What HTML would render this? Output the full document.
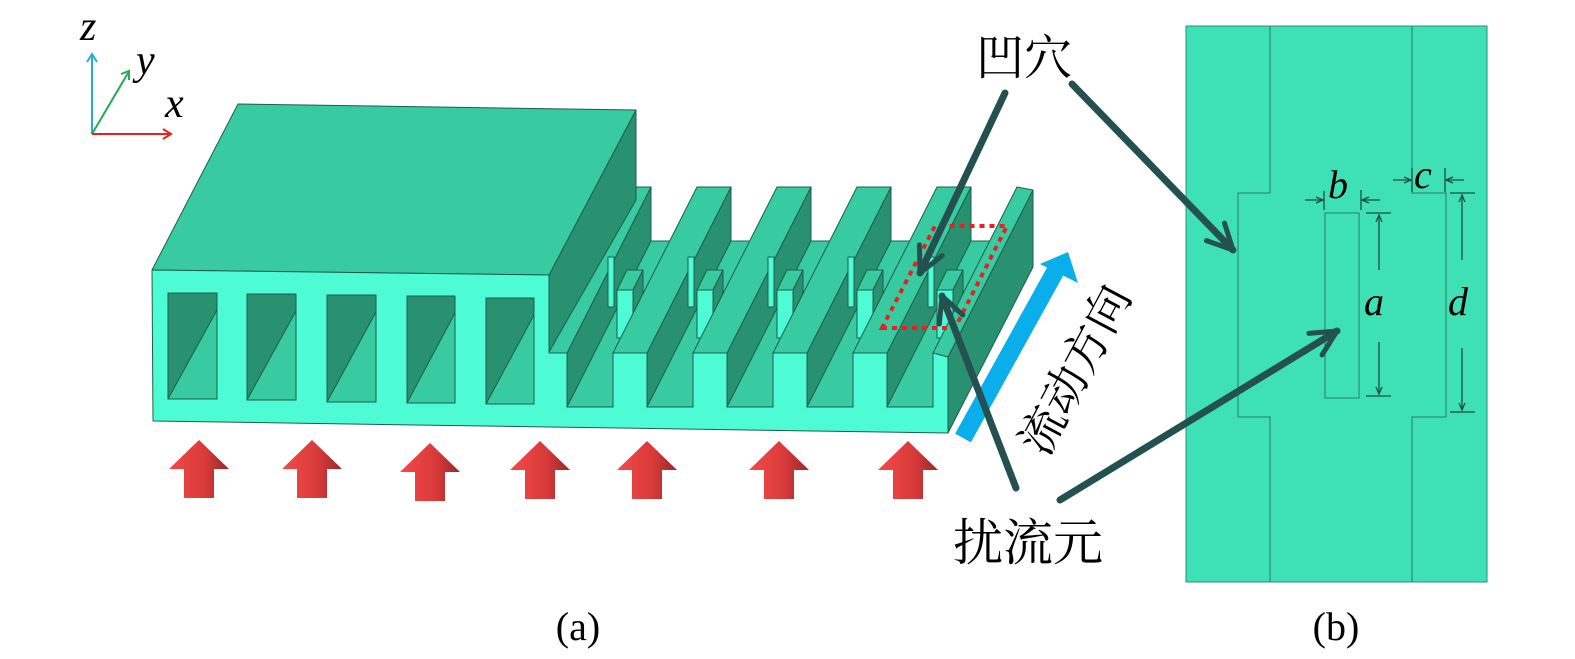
<!DOCTYPE html>
<html><head><meta charset="utf-8"><style>
html,body{margin:0;padding:0;background:#fff;}
svg{display:block;}
.cj{font-family:"Liberation Serif","Noto Serif CJK SC",serif;}
.m{font-family:"Liberation Serif",serif;font-style:italic;}
</style></head><body>
<svg width="1575" height="659" viewBox="0 0 1575 659" xmlns="http://www.w3.org/2000/svg">
<defs>
<linearGradient id="rg" x1="0" x2="1" y1="0" y2="0">
<stop offset="0" stop-color="#f44a4a"/><stop offset="0.6" stop-color="#d83a3a"/><stop offset="1" stop-color="#9a2828"/>
</linearGradient>
<marker id="ah" viewBox="0 0 10 10" refX="9" refY="5" markerWidth="4.5" markerHeight="4.5" orient="auto" markerUnits="strokeWidth">
<path d="M1,1 L9,5 L1,9" fill="none" stroke="#24514f" stroke-width="1.6" stroke-linecap="round" stroke-linejoin="round"/>
</marker>
</defs>

<!-- axes -->
<g stroke-width="2" fill="none">
<line x1="92" y1="134" x2="92" y2="56" stroke="#2aa8e0"/><path d="M87,62 L92,54 L97,62" stroke="#2aa8e0"/>
<line x1="92" y1="134" x2="128" y2="73" stroke="#22aa55"/><path d="M121,74 L129,71 L129,80" stroke="#22aa55"/>
<line x1="92" y1="134" x2="170" y2="134" stroke="#e82020"/><path d="M163,129 L171,134 L163,139" stroke="#e82020"/>
</g>
<text x="80" y="40" class="m" font-size="42">z</text>
<text x="136" y="74" class="m" font-size="42">y</text>
<text x="165" y="117" class="m" font-size="42">x</text>

<g stroke="#1e5e4b" stroke-width="1" stroke-linejoin="round">
<polygon points="549,407 948,407 1033,241 633,241" fill="#38cba1"/>
<polygon points="567,353 651,187 651,241 567,407" fill="#279170"/>
<polygon points="533,353 567,353 651,187 617,187" fill="#38cba1"/>
<polygon points="549,275 636,110 636,200 549,352" fill="#279170"/>
<polygon points="152,270 238,104 636,110 549,275" fill="#38cba1"/>
<g>
<polygon points="617,290 633,290 643,270 627,270" fill="#38cba1"/><rect x="617" y="290" width="16" height="48" fill="#4dfcd4"/><polygon points="633,290 643,270 643,318 633,338" fill="#279170"/>
<rect x="608" y="257" width="6" height="50" fill="#4dfcd4"/>
</g>
<polygon points="647,353 731,187 731,241 647,407" fill="#279170"/>
<polygon points="613,353 647,353 731,187 697,187" fill="#38cba1"/>
<g><polygon points="697,290 713,290 723,270 707,270" fill="#38cba1"/><rect x="697" y="290" width="16" height="48" fill="#4dfcd4"/><polygon points="713,290 723,270 723,318 713,338" fill="#279170"/><rect x="688" y="257" width="6" height="50" fill="#4dfcd4"/></g>
<polygon points="727,353 811,187 811,241 727,407" fill="#279170"/>
<polygon points="693,353 727,353 811,187 777,187" fill="#38cba1"/>
<g><polygon points="777,290 793,290 803,270 787,270" fill="#38cba1"/><rect x="777" y="290" width="16" height="48" fill="#4dfcd4"/><polygon points="793,290 803,270 803,318 793,338" fill="#279170"/><rect x="768" y="257" width="6" height="50" fill="#4dfcd4"/></g>
<polygon points="807,353 891,187 891,241 807,407" fill="#279170"/>
<polygon points="773,353 807,353 891,187 857,187" fill="#38cba1"/>
<g><polygon points="857,290 873,290 883,270 867,270" fill="#38cba1"/><rect x="857" y="290" width="16" height="48" fill="#4dfcd4"/><polygon points="873,290 883,270 883,318 873,338" fill="#279170"/><rect x="848" y="257" width="6" height="50" fill="#4dfcd4"/></g>
<polygon points="887,353 971,187 971,241 887,407" fill="#279170"/>
<polygon points="853,353 887,353 971,187 937,187" fill="#38cba1"/>
<g><polygon points="937,290 953,290 963,270 947,270" fill="#38cba1"/><rect x="937" y="290" width="16" height="48" fill="#4dfcd4"/><polygon points="953,290 963,270 963,318 953,338" fill="#279170"/><rect x="928" y="257" width="6" height="50" fill="#4dfcd4"/></g>
<polygon points="948,357 1033,190 1033,267 948,433" fill="#279170"/>
<polygon points="933,353 948,357 1033,190 1017,187" fill="#38cba1"/>
<polygon points="152,270 549,275 549,353 567,353 567,407 613,407 613,353 647,353 647,407 693,407 693,353 727,353 727,407 773,407 773,353 807,353 807,407 853,407 853,353 887,353 887,407 933,407 933,353 948,357 948,433 153,421" fill="#4dfcd4"/>
<rect x="168" y="293" width="49" height="106" fill="#279170"/><polygon points="168,399 217,310 217,399" fill="#38cba1"/>
<rect x="247" y="294" width="49" height="106" fill="#279170"/><polygon points="247,400 296,311 296,400" fill="#38cba1"/>
<rect x="327" y="295" width="49" height="107" fill="#279170"/><polygon points="327,402 376,312 376,402" fill="#38cba1"/>
<rect x="407" y="296" width="48" height="107" fill="#279170"/><polygon points="407,403 455,313 455,403" fill="#38cba1"/>
<rect x="486" y="298" width="48" height="106" fill="#279170"/><polygon points="486,404 534,315 534,404" fill="#38cba1"/>
</g>

<polygon points="882,328 955,328 1007,226 935,226" fill="none" stroke="#e82020" stroke-width="4" stroke-dasharray="5,5"/>

<g fill="url(#rg)">
<polygon transform="translate(199,440)" points="0,0 30,29 15,29 15,58 -15,58 -15,29 -30,29"/>
<polygon transform="translate(312,440)" points="0,0 30,29 15,29 15,58 -15,58 -15,29 -30,29"/>
<polygon transform="translate(430,443)" points="0,0 30,29 15,29 15,58 -15,58 -15,29 -30,29"/>
<polygon transform="translate(540,441)" points="0,0 30,29 15,29 15,58 -15,58 -15,29 -30,29"/>
<polygon transform="translate(647,441)" points="0,0 30,29 15,29 15,58 -15,58 -15,29 -30,29"/>
<polygon transform="translate(779,441)" points="0,0 30,29 15,29 15,58 -15,58 -15,29 -30,29"/>
<polygon transform="translate(908,441)" points="0,0 30,29 15,29 15,58 -15,58 -15,29 -30,29"/>
</g>

<line x1="963" y1="438" x2="1056" y2="270" stroke="#0aaeea" stroke-width="18"/>
<polygon points="1040,264 1068,252 1078,283" fill="#0aaeea"/>
<text transform="translate(1080,372) rotate(-62)" text-anchor="middle" class="cj" font-size="46" dominant-baseline="middle">流动方向</text>

<text x="976" y="74" class="cj" font-size="48">凹穴</text>
<text x="953" y="560" class="cj" font-size="50">扰流元</text>

<rect x="1186" y="26" width="301" height="556" fill="#3ee0b5" stroke="#2c8f77" stroke-width="1"/>
<g fill="none" stroke="#2c7a66" stroke-width="1">
<polyline points="1270,26 1270,193 1238,193 1238,417 1270,417 1270,582"/>
<polyline points="1412,26 1412,193 1446,193 1446,417 1412,417 1412,582"/>
<rect x="1325" y="213" width="34" height="185"/>
</g>
<g stroke="#1d4d44" stroke-width="1.3" fill="none">
<line x1="1366" y1="213" x2="1391" y2="213"/><line x1="1366" y1="396" x2="1391" y2="396"/>
<line x1="1379" y1="215" x2="1379" y2="270"/><line x1="1379" y1="342" x2="1379" y2="394"/>
<path d="M1376,222 L1379,215 L1382,222"/><path d="M1376,387 L1379,394 L1382,387"/>
<line x1="1450" y1="193" x2="1475" y2="193"/><line x1="1450" y1="412" x2="1475" y2="412"/>
<line x1="1462" y1="195" x2="1462" y2="260"/><line x1="1462" y1="348" x2="1462" y2="410"/>
<path d="M1459,202 L1462,195 L1465,202"/><path d="M1459,403 L1462,410 L1465,403"/>
<line x1="1324" y1="191" x2="1324" y2="210"/><line x1="1361" y1="190" x2="1361" y2="210"/>
<line x1="1305" y1="200" x2="1323" y2="200"/><path d="M1316,197 L1323,200 L1316,203"/>
<line x1="1362" y1="200" x2="1380" y2="200"/><path d="M1369,197 L1362,200 L1369,203"/>
<line x1="1412" y1="168" x2="1412" y2="192"/><line x1="1445" y1="168" x2="1445" y2="192"/>
<line x1="1393" y1="180" x2="1411" y2="180"/><path d="M1404,177 L1411,180 L1404,183"/>
<line x1="1446" y1="180" x2="1464" y2="180"/><path d="M1453,177 L1446,180 L1453,183"/>
</g>
<text x="1328" y="198" class="m" font-size="40">b</text>
<text x="1414" y="188" class="m" font-size="40">c</text>
<text x="1364" y="315" class="m" font-size="40">a</text>
<text x="1448" y="315" class="m" font-size="40">d</text>

<g stroke="#24514f" stroke-width="7" stroke-linecap="round" fill="none">
<line x1="1005" y1="93" x2="920" y2="273" marker-end="url(#ah)"/>
<line x1="1072" y1="84" x2="1233" y2="250" marker-end="url(#ah)"/>
<line x1="1016" y1="488" x2="942" y2="296" marker-end="url(#ah)"/>
<line x1="1060" y1="500" x2="1337" y2="331" marker-end="url(#ah)"/>
</g>

<text x="578" y="640" text-anchor="middle" font-family="Liberation Serif,serif" font-size="40">(a)</text>
<text x="1336" y="640" text-anchor="middle" font-family="Liberation Serif,serif" font-size="40">(b)</text>
</svg>
</body></html>
